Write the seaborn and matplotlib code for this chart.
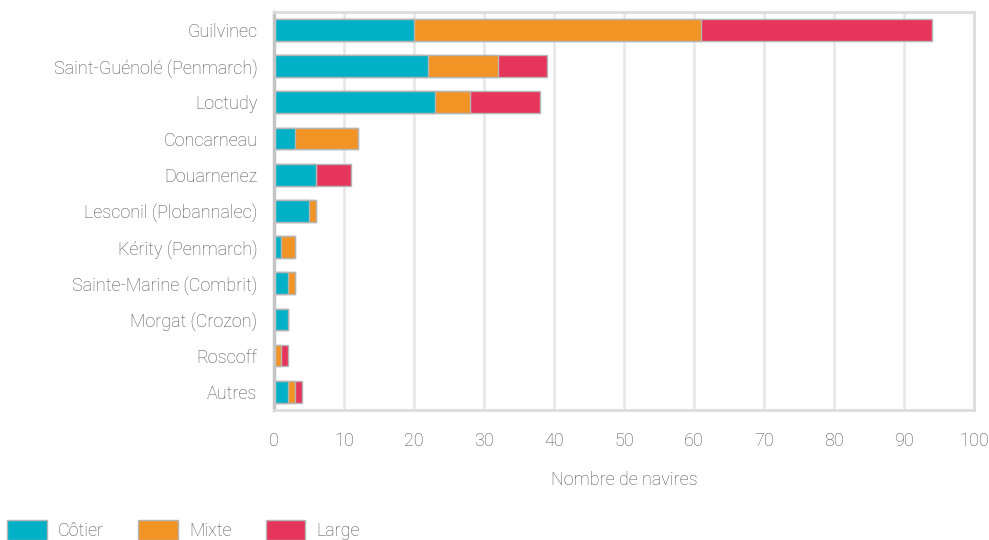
import numpy as np
import pandas as pd
import seaborn as sns
import matplotlib.pyplot as plt
from matplotlib.patches import Patch

# Données
ports = ["Guilvinec", "Saint-Guénolé (Penmarch)", "Loctudy", "Concarneau", "Douarnenez",
         "Lesconil (Plobannalec)", "Kérity (Penmarch)", "Sainte-Marine (Combrit)",
         "Morgat (Crozon)", "Roscoff", "Autres"]
cotier = [20, 22, 23, 3, 6, 5, 1, 2, 2, 0, 2]
mixte = [41, 10, 5, 9, 0, 1, 2, 1, 0, 1, 1]
large = [33, 7, 10, 0, 5, 0, 0, 0, 0, 1, 1]
series = ["Côtier", "Mixte", "Large"]
colors = ["#00b0c6", "#f29325", "#e6355a"]

sns.set_style("white")
plt.rcParams['font.family'] = ['Roboto', 'DejaVu Sans']
plt.rcParams['font.weight'] = 'light'
plt.rcParams['axes.labelweight'] = 'light'

df = pd.DataFrame({"port": ports, "Côtier": cotier, "Mixte": mixte, "Large": large})
df["c1"] = df["Côtier"]
df["c2"] = df["c1"] + df["Mixte"]
df["c3"] = df["c2"] + df["Large"]

fig = plt.figure(figsize=(9.89, 5.4), dpi=100)
ax = fig.add_axes([0.277, 0.241, 0.708, 0.737])

# barres empilées : on dessine les cumuls du plus grand au plus petit
for col, color in zip(["c3", "c2", "c1"], colors[::-1]):
    sns.barplot(data=df, y="port", x=col, color=color, orient="h", width=0.6,
                edgecolor="#b5b5b5", linewidth=1, ax=ax, saturation=1)

ax.set_xlim(0, 100)
ax.set_xticks(range(0, 101, 10))
ax.set_ylim(10.5, -0.5)
ax.set_ylabel("")
ax.set_xlabel("Nombre de navires", fontsize=13, color="#505050", labelpad=15)
ax.tick_params(axis="both", length=0, labelsize=13, labelcolor="#505050")
ax.tick_params(axis="x", pad=16)
ax.tick_params(axis="y", pad=12)
ax.grid(axis="x", color="#e6e6e6", linewidth=1.8)
ax.set_axisbelow(True)
for s in ["top", "right", "bottom"]:
    ax.spines[s].set_color("#dcdcdc")
    ax.spines[s].set_linewidth(2)
ax.spines["left"].set_color("#c4c4c4")
ax.spines["left"].set_linewidth(2.5)

handles = [Patch(facecolor=c, edgecolor="#b5b5b5", label=l) for c, l in zip(colors, series)]
fig.legend(handles=handles, loc="lower left", bbox_to_anchor=(-0.009, -0.03), ncol=3,
           frameon=False, fontsize=13, handlelength=2.2, handleheight=1.35,
           columnspacing=1.9, handletextpad=0.6, labelcolor="#505050")

plt.savefig("out.png", dpi=100)
